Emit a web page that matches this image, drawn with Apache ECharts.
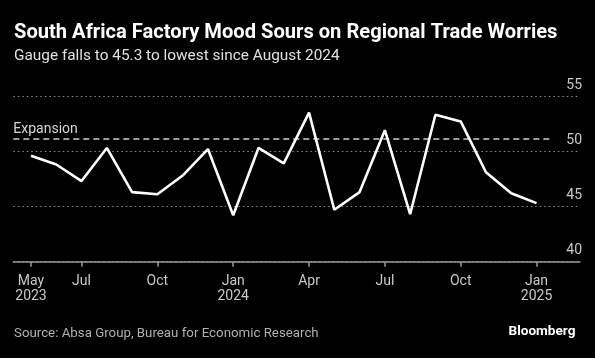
<!DOCTYPE html>
<html>
<head>
<meta charset="utf-8">
<script src="https://cdn.jsdelivr.net/npm/echarts@6/dist/echarts.min.js"></script>
<style>
html,body{margin:0;padding:0;background:#000;}
#c{width:595px;height:358px;}
</style>
</head>
<body>
<div id="c"></div>
<script>
// ---- data ----
var months = ['May 2023','Jun 2023','Jul 2023','Aug 2023','Sep 2023','Oct 2023','Nov 2023','Dec 2023',
  'Jan 2024','Feb 2024','Mar 2024','Apr 2024','May 2024','Jun 2024','Jul 2024','Aug 2024','Sep 2024',
  'Oct 2024','Nov 2024','Dec 2024','Jan 2025'];
var pmiValues = [49.6, 48.8, 47.3, 50.3, 46.3, 46.1, 47.8, 50.2,
  44.2, 50.3, 48.9, 53.5, 44.7, 46.3, 51.9, 44.3, 53.3,
  52.7, 48.1, 46.2, 45.3];
var tickMonths = ['May 2023','Jul 2023','Oct 2023','Jan 2024','Apr 2024','Jul 2024','Oct 2024','Jan 2025'];
var yTicks = [40, 45, 50, 55];
var expansionLevel = 51.1;
var titleText = 'South Africa Factory Mood Sours on Regional Trade Worries';
var subtitleText = 'Gauge falls to 45.3 to lowest since August 2024';
var sourceText = 'Source: Absa Group, Bureau for Economic Research';
var brandText = 'Bloomberg';

// ---- helpers ----
var FAM = "'Liberation Sans Narrow', 'Roboto', 'Liberation Sans', sans-serif";
var cv = document.createElement('canvas').getContext('2d');
function fit(text, weight, target) {
  cv.font = weight + ' 100px ' + FAM;
  return 100 * target / cv.measureText(text).width;
}
var tSize = fit(titleText, 'bold', 544);
var sSize = fit(subtitleText, 'normal', 326);
var srcSize = fit(sourceText, 'normal', 305);
var bSize = fit(brandText, 'bold', 67);

var seriesData = pmiValues.map(function (v, i) { return [i, v]; });
var tickIdx = tickMonths.map(function (m) { return months.indexOf(m); });
function tickLabel(idx) {
  var m = months[idx].split(' ');
  return (m[0] === 'Jan' || idx === 0) ? m[0] + '\n' + m[1] : m[0];
}

var chart = echarts.init(document.getElementById('c'), null, {renderer: 'canvas'});
chart.setOption({
  backgroundColor: '#000',
  animation: false,
  grid: {left: 13.3, right: 15, top: 96, bottom: 96.3, containLabel: false},
  xAxis: {
    type: 'value',
    min: -0.7, max: 21.72,
    splitLine: {show: false},
    axisLine: {show: true, onZero: false, lineStyle: {color: '#9a9a9a', width: 1.5}},
    axisTick: {show: true, customValues: tickIdx, length: 5, lineStyle: {color: '#9a9a9a', width: 1.5}},
    axisLabel: {
      customValues: tickIdx,
      formatter: function (v) { return tickLabel(v); },
      color: '#c8c8c8', fontFamily: FAM, fontSize: 14, lineHeight: 15.5, margin: 12
    }
  },
  yAxis: {
    type: 'value', position: 'right',
    min: yTicks[0], max: yTicks[yTicks.length - 1], interval: 5,
    axisLine: {show: false}, axisTick: {show: false},
    splitLine: {show: true, lineStyle: {color: '#8c8c8c', type: [1.5, 3], width: 1.2}},
    axisLabel: {
      inside: true, margin: -2, color: '#c8c8c8', fontFamily: FAM, fontSize: 14,
      verticalAlign: 'bottom', padding: [0, 0, 4, 0]
    }
  },
  series: [{
    type: 'line',
    data: seriesData,
    symbol: 'none',
    lineStyle: {color: '#fff', width: 2.6},
    z: 5,
    markLine: {
      silent: true, symbol: 'none',
      lineStyle: {color: '#d0d0d0', type: [6, 4], width: 1.5},
      label: {show: true, position: 'insideStartTop', formatter: 'Expansion', color: '#d8d8d8',
        fontFamily: FAM, fontSize: 14, distance: [0, 3]},
      data: [[{coord: [-0.7, expansionLevel]}, {coord: [20.66, expansionLevel]}]]
    }
  }],
  graphic: [
    {type: 'text', x: 14, y: 33, style: {text: titleText, fill: '#fff', font: 'bold ' + tSize + 'px ' + FAM, verticalAlign: 'middle', textVerticalAlign: 'middle'}},
    {type: 'text', x: 14, y: 56, style: {text: subtitleText, fill: '#e0e0e0', font: sSize + 'px ' + FAM, verticalAlign: 'middle', textVerticalAlign: 'middle'}},
    {type: 'text', x: 14, y: 333.5, style: {text: sourceText, fill: '#b0b0b0', font: srcSize + 'px ' + FAM, verticalAlign: 'middle', textVerticalAlign: 'middle'}},
    {type: 'text', x: 508.5, y: 331.5, style: {text: brandText, fill: '#fff', font: 'bold ' + bSize + 'px ' + FAM, verticalAlign: 'middle', textVerticalAlign: 'middle'}}
  ]
});
</script>
</body>
</html>
